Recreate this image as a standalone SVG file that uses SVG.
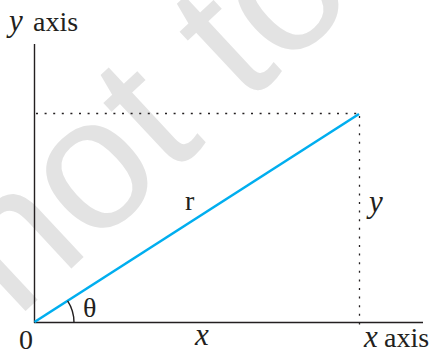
<svg xmlns="http://www.w3.org/2000/svg" width="434" height="352" viewBox="0 0 434 352">
<style>
.wm{font-family:"Liberation Sans","DejaVu Sans",sans-serif;font-size:188px;fill:#e3e3e3}
.axis{stroke:#231f20;stroke-width:1.4;fill:none}
.dot{stroke:#231f20;stroke-width:1.3;stroke-dasharray:2 6.6;fill:none}
.lbl{font-family:"Liberation Serif","DejaVu Serif",serif;font-size:28px;fill:#231f20}
.it{font-style:italic;font-size:31px}
</style>
<rect width="434" height="352" fill="#fff"/>
<g id="watermark">
<text class="wm" transform="translate(16,320) rotate(-43)">not to</text>
</g>
<g id="connectors">
<line class="axis" x1="34.5" y1="44" x2="34.5" y2="323"/>
<line class="axis" x1="34" y1="322.5" x2="423" y2="322.5"/>
<line class="dot" x1="36" y1="113.5" x2="358" y2="113.5"/>
<line class="dot" x1="359.5" y1="116" x2="359.5" y2="331"/>
<line x1="34.5" y1="322" x2="359" y2="114" stroke="#00aeef" stroke-width="2.6"/>
<path class="axis" d="M67.6,300.8 A39.5,39.5 0 0 1 74,322.5" stroke-width="1.2"/>
</g>
<g id="y-axis-label"><text class="lbl" y="31"><tspan class="it" x="9">y</tspan><tspan x="33">axis</tspan></text></g>
<g id="x-axis-label"><text class="lbl" y="347"><tspan class="it" x="364">x</tspan><tspan x="384">axis</tspan></text></g>
<g id="origin-label"><text class="lbl" x="19" y="349">0</text></g>
<g id="theta-label"><text class="lbl" x="83" y="317">θ</text></g>
<g id="r-label"><text class="lbl" x="185" y="210">r</text></g>
<g id="x-label"><text class="lbl it" x="195" y="345">x</text></g>
<g id="y-label"><text class="lbl it" x="369" y="212">y</text></g>
</svg>
